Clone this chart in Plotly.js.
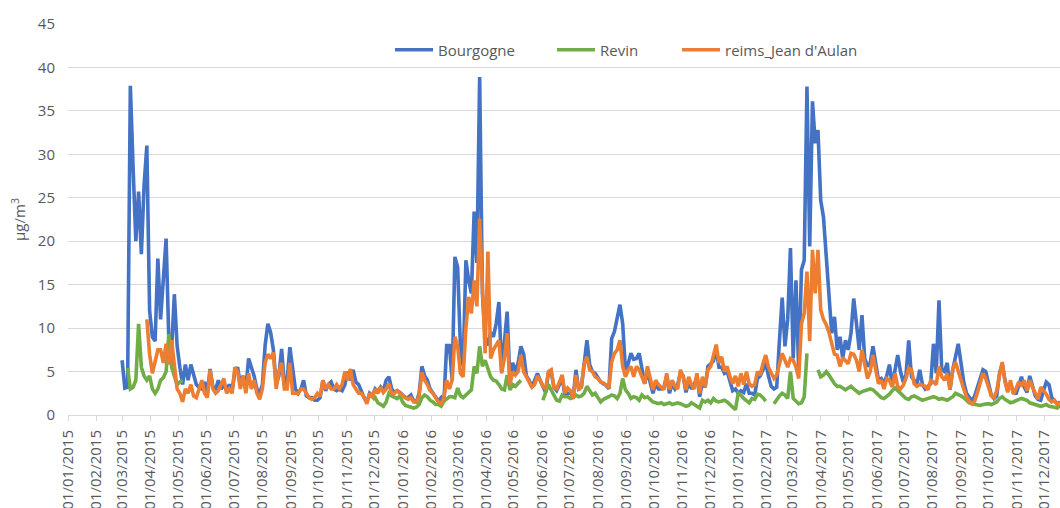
<!DOCTYPE html>
<html>
<head>
<meta charset="utf-8">
<script src="https://cdn.plot.ly/plotly-3.0.1.min.js"></script>
<style>
  html, body { margin: 0; padding: 0; background: #ffffff; }
  #chart { width: 1060px; height: 508px; }
</style>
</head>
<body>
<div id="chart"></div>
<script>
// Series names
const seriesNames = ["Bourgogne", "Revin", "reims_Jean d'Aulan"];

// Sampling of the series: one value every 3 days from this date
const startDate = "2015-03-01";
const stepDays = 3;

// Bourgogne (µg/m³)
const bourgogne = [
  6.3, 3.1, 3.2, 37.9, 28.5, 20.0, 25.7, 18.5, 26.5, 31.0,
  12.0, 9.0, 8.5, 18.0, 11.0, 15.0, 20.3, 8.5, 7.5, 13.9,
  8.0, 5.5, 3.5, 5.8, 4.0, 5.8, 4.5, 3.5, 3.2, 3.0,
  3.8, 2.5, 5.3, 3.2, 3.0, 4.0, 3.0, 3.5, 2.8, 3.5,
  2.8, 5.0, 5.5, 3.5, 4.5, 3.0, 6.5, 5.5, 4.5, 3.0,
  2.5, 3.5, 8.0, 10.5, 9.5, 7.5, 3.5, 4.5, 7.6, 3.5,
  4.0, 7.8, 5.0, 3.0, 2.5, 3.0, 4.0, 2.2, 2.0, 2.0,
  1.7, 1.7, 2.0, 4.0, 2.8, 3.5, 3.8, 3.0, 2.8, 3.0,
  2.8, 3.5, 5.0, 4.0, 5.2, 3.8, 3.5, 2.7, 2.0, 1.5,
  2.5, 2.2, 3.0, 2.7, 3.2, 2.8, 4.0, 4.4, 3.0, 2.6,
  2.8, 2.6, 2.3, 2.0, 2.0, 2.3, 1.6, 1.5, 2.5, 5.6,
  4.5, 4.0, 3.0, 2.5, 2.0, 1.6, 2.0, 1.5, 8.0, 8.0,
  4.0, 18.2, 17.0, 8.0, 5.6, 17.8, 15.5, 14.0, 23.4, 17.5,
  38.9, 14.0, 9.0, 8.0, 9.5, 9.0, 10.5, 13.0, 5.0, 8.0,
  11.9, 4.0, 6.0, 5.0, 6.0, 7.9, 7.0, 4.5, 4.0, 3.2,
  4.0, 4.8, 4.0, 3.3, 2.6, 4.8, 5.0, 3.2, 2.8, 3.5,
  4.4, 2.1, 2.5, 2.5, 2.0, 5.2, 3.0, 3.2, 5.9, 8.6,
  5.8, 5.0, 4.8, 4.2, 3.8, 3.6, 3.4, 3.0, 8.8, 9.6,
  11.3, 12.7, 10.5, 5.2, 5.9, 7.1, 6.4, 6.5, 7.1, 5.5,
  3.6, 5.0, 3.8, 2.5, 3.6, 3.0, 3.0, 3.2, 4.5, 2.5,
  3.6, 3.0, 3.5, 4.8, 4.5, 2.6, 3.8, 3.0, 3.5, 4.4,
  2.1, 3.8, 3.2, 5.6, 5.9, 6.2, 7.6, 5.5, 5.5, 4.8,
  5.0, 4.0, 2.8, 3.0, 2.5, 2.8, 2.6, 3.6, 2.5, 2.5,
  2.3, 4.2, 4.5, 5.2, 6.0, 4.5, 3.3, 3.0, 3.2, 8.6,
  13.5, 7.9, 11.0, 19.2, 6.5, 15.5, 5.0, 16.7, 17.8, 37.8,
  19.4, 36.1, 31.3, 32.8, 24.7, 22.8, 18.2, 14.4, 9.4, 11.3,
  7.5, 9.0, 6.5, 8.6, 7.5, 9.4, 13.4, 10.5, 7.5, 11.5,
  6.5, 5.6, 6.0, 7.9, 5.8, 4.0, 4.2, 3.6, 4.5, 5.8,
  3.4, 5.0, 6.9, 5.0, 3.8, 4.6, 8.6, 4.4, 4.0, 3.6,
  5.2, 3.5, 3.0, 3.3, 3.6, 8.2, 4.8, 13.2, 5.2, 5.0,
  6.0, 2.9, 5.2, 6.7, 8.2, 6.0, 3.8, 2.5, 2.0, 1.6,
  2.2, 3.2, 4.2, 5.2, 5.0, 3.6, 2.3, 1.9, 2.2, 4.8,
  5.9, 4.0, 2.8, 3.5, 2.8, 2.4, 3.6, 4.4, 3.2, 2.6,
  4.5, 3.3, 2.2, 1.8, 1.7, 2.8, 3.8, 3.5, 2.0, 1.6,
  1.3, 1.5
];

// Revin (µg/m³), null = no measurement
const revin = [
  null, null, 5.4, 3.0, 3.2, 4.0, 10.5, 5.5, 4.5, 4.0,
  4.5, 3.0, 2.5, 3.0, 4.0, 4.3, 5.0, 9.3, 5.5, 4.5,
  3.5, 3.8, 4.0, null, null, null, null, null, null, null,
  null, null, null, null, null, null, null, null, null, null,
  null, null, null, null, null, null, null, null, null, null,
  null, null, null, null, null, null, null, null, null, null,
  null, null, null, null, null, null, null, null, null, null,
  null, null, null, null, null, null, null, null, null, null,
  null, null, null, null, null, null, null, null, null, null,
  null, 1.8, 2.0, 1.4, 1.2, 1.0, 1.5, 2.5, 2.2, 2.0,
  1.9, 2.2, 1.5, 1.1, 1.0, 0.9, 0.8, 0.9, 1.2, 2.0,
  2.3, 2.1, 1.7, 1.5, 1.2, 1.2, 1.0, 1.6, 1.8, 2.1,
  2.1, 2.0, 3.1, 2.2, 2.0, 2.3, 2.5, 2.9, 5.6, 4.8,
  7.9, 5.6, 6.3, 5.2, 4.4, 4.0, 3.9, 3.5, 3.0, 2.9,
  4.6, 2.9, 3.5, 3.3, 3.6, 4.0, null, null, null, null,
  null, null, null, 1.7, 2.5, 3.5, 2.9, 2.2, 1.7, 1.6,
  2.3, 2.1, 2.1, 1.9, 2.0, 2.3, 2.1, 2.2, 2.5, 3.3,
  2.8, 2.3, 2.5, 1.9, 1.5, 1.8, 1.9, 2.1, 2.3, 2.2,
  1.9, 2.5, 4.2, 2.9, 2.5, 1.9, 2.1, 2.0, 1.7, 2.3,
  2.0, 2.1, 1.8, 1.5, 1.4, 1.3, 1.4, 1.2, 1.3, 1.4,
  1.2, 1.3, 1.4, 1.3, 1.2, 1.0, 1.1, 1.4, 1.2, 1.0,
  0.8, 1.7, 1.5, 1.7, 1.4, 1.9, 1.6, 1.5, 1.6, 1.7,
  1.5, 1.2, 1.0, 0.6, 2.5, 2.3, 1.9, 1.6, 1.4, 1.9,
  1.8, 2.4, 2.3, 2.0, 1.6, null, null, 1.3, 1.8, 2.2,
  2.5, 2.3, 1.9, 5.0, 1.9, 1.6, 1.3, 1.4, 2.1, 7.1,
  null, null, null, 5.2, 4.4, 4.6, 5.0, 4.6, 4.0, 3.6,
  3.3, 3.3, 3.1, 2.9, 3.1, 3.3, 3.0, 2.8, 2.5, 2.7,
  2.8, 3.0, 3.0, 2.9, 2.6, 2.2, 2.0, 1.9, 2.1, 2.4,
  2.8, 3.1, 2.8, 2.5, 2.1, 1.9, 1.8, 2.1, 2.2, 2.0,
  1.9, 1.7, 1.8, 1.9, 2.0, 2.1, 2.0, 1.8, 1.9, 1.8,
  1.7, 1.9, 2.1, 2.5, 2.4, 2.2, 2.0, 1.7, 1.4, 1.3,
  1.2, 1.1, 1.1, 1.2, 1.3, 1.3, 1.2, 1.3, 1.5, 1.9,
  2.1, 1.8, 1.6, 1.4, 1.5, 1.7, 1.8, 1.9, 1.8, 1.7,
  1.4, 1.3, 1.2, 1.2, 1.0, 1.1, 1.2, 1.0, 1.0, 0.9,
  0.8, 1.1
];

// reims_Jean d'Aulan (µg/m³), null = no measurement
const reims = [
  null, null, null, null, null, null, null, null, null, 11.0,
  7.0, 4.8, 6.3, 7.5, 7.5, 6.0, 8.2, 5.8, 8.6, 6.0,
  3.0, 2.5, 1.5, 3.0, 2.5, 3.5, 2.2, 2.0, 3.0, 4.0,
  2.5, 2.0, 5.2, 3.0, 2.5, 2.8, 3.5, 4.2, 2.5, 3.0,
  2.5, 5.5, 5.0, 3.0, 4.5, 2.5, 4.8, 3.0, 4.0, 2.5,
  1.8, 3.0, 6.0, 7.0, 6.5, 7.2, 3.0, 5.0, 6.0, 3.0,
  3.0, 6.0, 2.5, 2.5, 2.5, 3.0, 3.0, 2.5, 2.0, 1.8,
  2.0, 2.5, 2.1, 4.0, 3.0, 3.5, 3.0, 3.0, 3.5, 3.0,
  3.5, 5.0, 4.0, 5.3, 3.5, 3.0, 2.5, 2.5, 2.0, 1.3,
  2.5, 2.0, 3.0, 2.5, 3.2, 2.6, 3.0, 3.6, 2.5, 2.5,
  2.8, 2.5, 2.2, 2.0, 1.8, 2.0, 1.5, 1.5, 2.2, 4.9,
  4.0, 3.5, 2.8, 2.5, 2.0, 1.5, 1.3, 2.0, 4.0, 3.0,
  4.0, 9.0, 7.9, 4.8, 4.4, 10.0, 13.6, 11.7, 15.5, 12.5,
  22.6, 14.0, 7.1, 18.8, 6.5, 7.5, 8.0, 8.6, 4.8, 6.5,
  9.4, 3.5, 5.0, 4.6, 5.0, 6.9, 5.0, 4.4, 4.0, 3.2,
  3.5, 4.5, 4.0, 3.3, 3.0, 5.0, 5.2, 3.2, 3.0, 3.8,
  4.6, 2.5, 3.1, 2.8, 1.9, 4.6, 2.9, 3.3, 5.9, 6.7,
  5.2, 5.0, 4.4, 4.2, 3.8, 3.7, 3.4, 3.1, 6.1, 7.1,
  7.5, 8.6, 5.6, 4.4, 5.2, 5.6, 4.4, 5.6, 5.2, 4.4,
  3.6, 5.6, 4.0, 2.9, 4.0, 3.5, 3.2, 2.9, 4.8, 2.9,
  4.0, 3.3, 3.0, 5.2, 4.4, 2.9, 4.4, 3.5, 3.0, 4.8,
  2.5, 4.4, 3.3, 5.2, 5.6, 6.7, 8.1, 6.0, 6.7, 5.0,
  5.6, 4.4, 3.6, 4.5, 3.3, 4.8, 3.5, 5.0, 3.6, 3.3,
  3.5, 5.0, 4.6, 5.9, 6.9, 5.5, 4.8, 4.2, 4.6, 6.0,
  7.1, 6.3, 5.5, 6.5, 6.3, 5.5, 4.2, 10.5, 11.7, 16.5,
  8.5, 19.0, 14.0, 19.0, 12.1, 11.0, 10.4, 9.5, 8.2, 7.0,
  6.9, 5.6, 6.6, 6.3, 5.9, 7.1, 7.0, 6.3, 5.0, 7.5,
  6.0, 4.2, 5.0, 6.9, 5.2, 3.6, 4.0, 3.0, 4.2, 4.0,
  3.2, 4.8, 3.3, 3.0, 3.4, 4.2, 5.4, 5.2, 3.6, 3.3,
  3.5, 3.4, 3.3, 2.9, 4.0, 3.8, 3.5, 5.6, 4.4, 4.0,
  4.8, 2.9, 5.2, 6.1, 5.0, 3.8, 3.0, 2.1, 1.6, 1.3,
  1.6, 2.6, 3.6, 4.8, 4.2, 3.0, 2.2, 2.0, 2.8, 4.6,
  6.1, 3.8, 2.6, 4.0, 2.4, 3.0, 3.8, 3.3, 4.0, 2.8,
  4.0, 3.2, 2.4, 1.8, 3.2, 2.8, 2.4, 1.8, 1.5, 1.7,
  1.2, 1.4
];

// Build the date categories for the samples
function buildDates(n) {
  const out = [];
  const t0 = Date.parse(startDate + "T00:00:00Z");
  for (let i = 0; i < n; i++) {
    const d = new Date(t0 + i * stepDays * 86400000);
    out.push(d.toISOString().slice(0, 10));
  }
  return out;
}
const dates = buildDates(bourgogne.length);

const textColor = "#595959";
const gridColor = "#d9d9d9";
const font = { family: "Open Sans, sans-serif", size: 15, color: textColor };

const traces = [
  { x: dates, y: bourgogne, name: seriesNames[0], type: "scatter", mode: "lines",
    line: { color: "#4472C4", width: 3.6 }, legend: "legend" },
  { x: dates, y: revin, name: seriesNames[1], type: "scatter", mode: "lines",
    line: { color: "#70AD47", width: 3.6 }, legend: "legend2" },
  { x: dates, y: reims, name: seriesNames[2], type: "scatter", mode: "lines",
    line: { color: "#ED7D31", width: 3.6 }, legend: "legend3" }
];

function legendAt(xpx) {
  return {
    x: (xpx - 68) / 992, xanchor: "left",
    y: (415 - 50) / 391, yanchor: "middle",
    orientation: "h", bgcolor: "rgba(255,255,255,0)",
    borderwidth: 0, font: font, itemwidth: 38
  };
}

const layout = {
  width: 1060, height: 508,
  margin: { l: 68, r: 0, t: 24, b: 93, pad: 0 },
  paper_bgcolor: "#ffffff", plot_bgcolor: "#ffffff",
  font: font,
  showlegend: true,
  legend: legendAt(390),
  legend2: legendAt(552),
  legend3: legendAt(677),
  xaxis: {
    type: "date",
    range: ["2015-01-01", "2017-12-18"],
    tick0: "2015-01-01", dtick: "M1",
    tickformat: "%d/%m/%Y",
    tickangle: -90,
    ticks: "outside", ticklen: 5, tickcolor: gridColor, tickwidth: 1,
    showline: true, linecolor: gridColor, linewidth: 1,
    showgrid: false, zeroline: false,
    tickfont: { family: "Open Sans, sans-serif", size: 15, color: textColor },
    ticklabelstandoff: 3,
    automargin: false
  },
  yaxis: {
    range: [0, 45], dtick: 5, tick0: 0,
    showgrid: true, gridcolor: gridColor, gridwidth: 1,
    zeroline: false, showline: false, ticks: "",
    tickfont: font, ticklabelstandoff: 12,
    title: { text: "µg/m<sup>3</sup>", font: font, standoff: 8 },
    automargin: false
  }
};

Plotly.newPlot("chart", traces, layout, { staticPlot: true, displayModeBar: false });
</script>
</body>
</html>
